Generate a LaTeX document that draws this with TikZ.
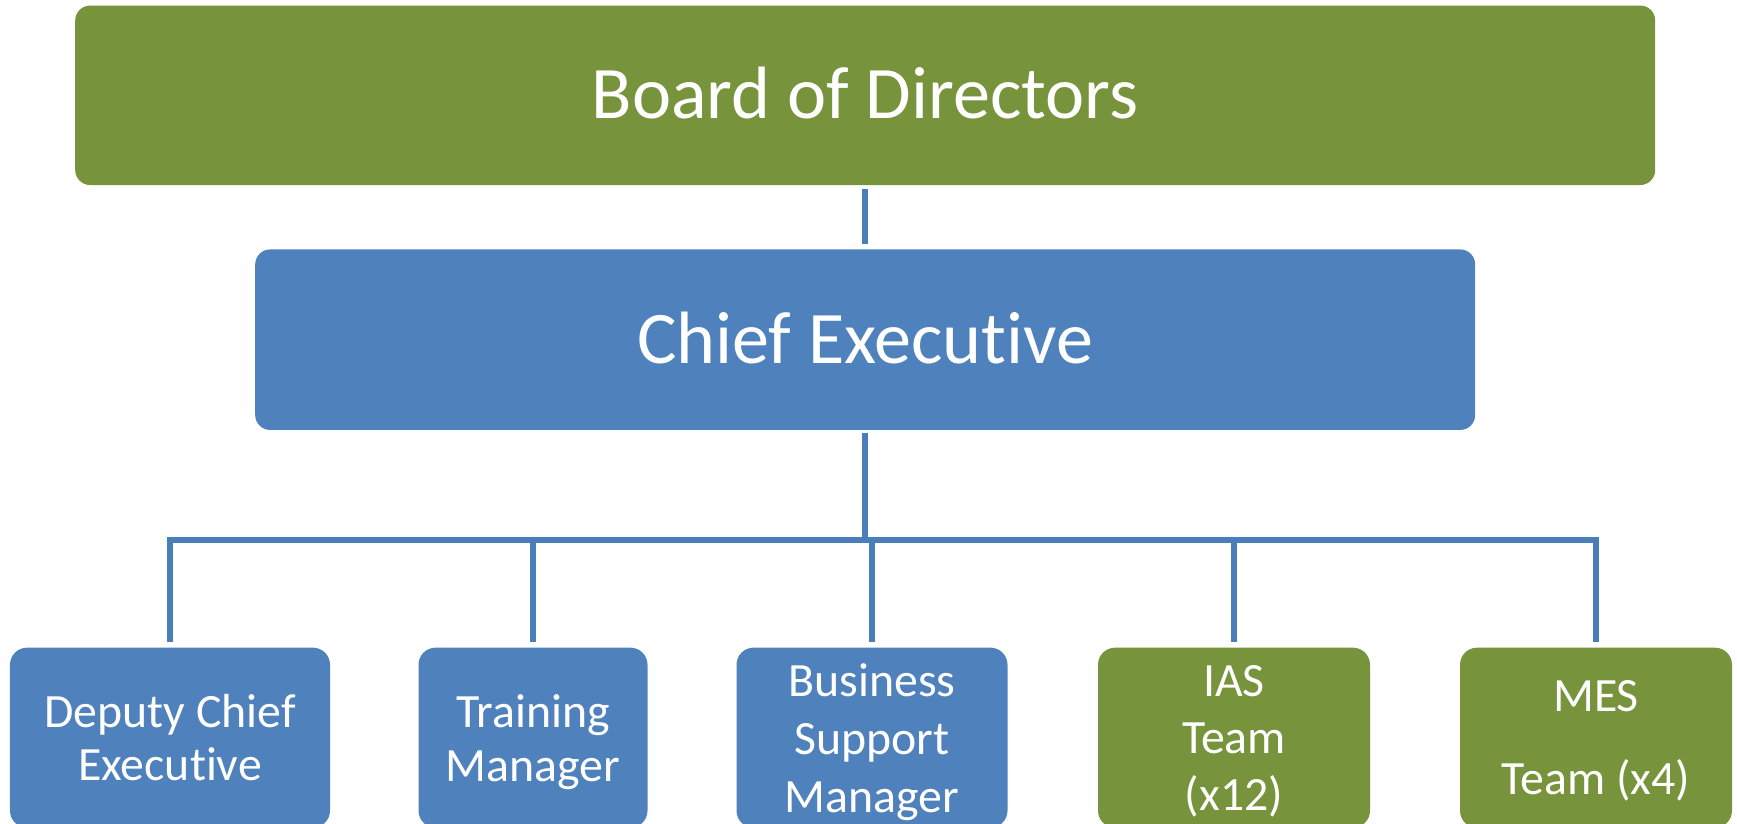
\documentclass[tikz,border=0pt]{standalone}
\usepackage{fontspec}
\setmainfont{Carlito}[RawFeature=-liga]
\usepackage{tikz}
\usetikzlibrary{positioning}
\definecolor{boardgreen}{HTML}{77933C}
\definecolor{staffblue}{HTML}{4F81BD}
\definecolor{linkblue}{HTML}{4A7EBB}

\begin{document}
\begin{tikzpicture}[
        % Define styles for the boxes and lines
        topbox/.style={rectangle, rounded corners=0.15cm, text=white, font=\fontsize{21.1}{25}\selectfont, text height=0.47cm, text depth=0pt, inner sep=0pt},
        team/.style={rectangle, rounded corners=0.17cm, text=white, align=center, anchor=north, minimum height=1.8cm, inner sep=0pt, text depth=0pt, font=\fontsize{13.6}{#1}\selectfont},
        link/.style={draw=linkblue, line width=0.06cm}
    ]
    \clip (0,0) rectangle (17.37,-8.24);

    % Define nodes
    \node[topbox, fill=boardgreen, minimum width=15.8cm, minimum height=1.795cm] (board) at (8.652,-0.953) {Board of Directors};
    \node[topbox, fill=staffblue, minimum width=12.2cm, minimum height=1.805cm, below=0.63cm of board] (ceo) {Chief Executive};
    \coordinate[below=1.093cm of ceo.south] (bus);

    \node[team=15.2pt, fill=staffblue, minimum width=3.20cm] (deputy) at (1.70,-6.47) {Deputy Chief\\Executive};
    \node[team=15.4pt, fill=staffblue, minimum width=2.29cm] (training) at (5.33,-6.47) {Training\\Manager};
    \node[team=16.5pt, fill=staffblue, minimum width=2.71cm] (business) at (8.72,-6.47) {Business\\Support\\Manager};
    \node[team=16.2pt, fill=boardgreen, minimum width=2.72cm] (ias) at (12.34,-6.47) {IAS\\Team\\(x12)};
    \node[team=23.5pt, fill=boardgreen, minimum width=2.72cm] (mes) at (15.96,-6.47) {MES\\Team (x4)};

    % Draw lines
    \draw[link] ([yshift=-0.03cm]board.south) -- ([yshift=0.05cm]ceo.north);
    \draw[link] ([yshift=-0.02cm]ceo.south) -- (bus);
    \foreach \t in {deputy, training, business, ias, mes}
        \draw[link] (bus) -| ([yshift=0.05cm]\t.north);
\end{tikzpicture}
\end{document}
